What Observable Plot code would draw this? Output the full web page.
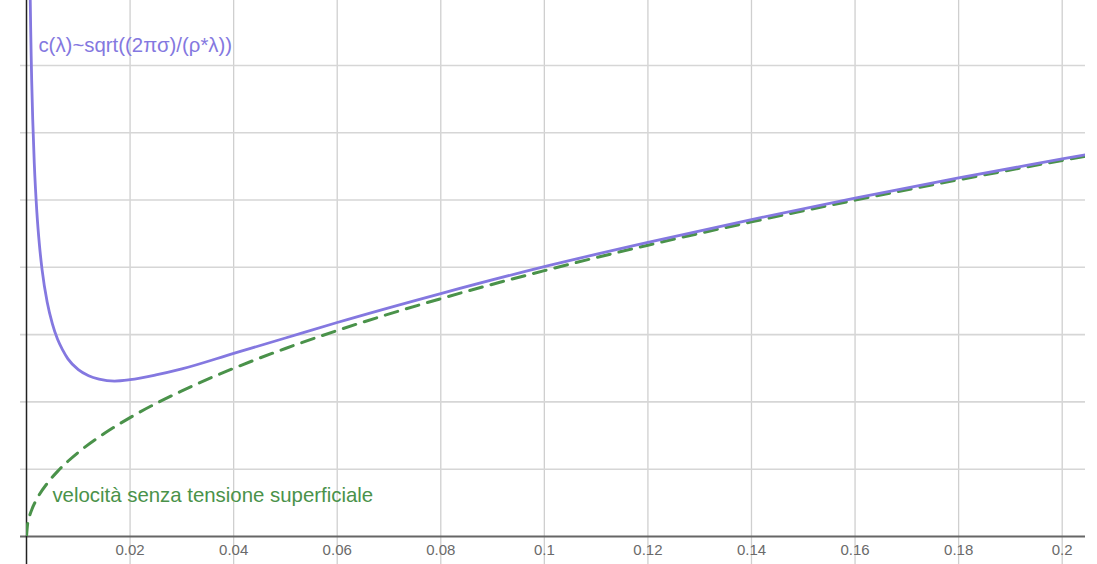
<!DOCTYPE html>
<html>
<head>
<meta charset="utf-8">
<script src="https://cdn.jsdelivr.net/npm/d3@7"></script>
<script src="https://cdn.jsdelivr.net/npm/@observablehq/plot@0.6"></script>
<style>
  html, body { margin: 0; padding: 0; background: #fff; }
  #chart svg { display: block; }
</style>
</head>
<body>
<div id="chart"></div>
<script>
// wavelength λ (m) and phase speed c (m/s)
const lambdaCap = [0.0007, 0.0008, 0.0009, 0.001, 0.0012, 0.0015, 0.002, 0.0025, 0.003, 0.004, 0.005, 0.006, 0.007, 0.008, 0.01, 0.012, 0.014, 0.017, 0.02, 0.025, 0.03, 0.04, 0.05, 0.06, 0.08, 0.1, 0.12, 0.14, 0.16, 0.18, 0.2, 0.205];
const speedCap  = [0.810, 0.758, 0.715, 0.678, 0.620, 0.555, 0.482, 0.433, 0.397, 0.348, 0.316, 0.293, 0.277, 0.264, 0.248, 0.239, 0.234, 0.231, 0.233, 0.240, 0.249, 0.272, 0.295, 0.318, 0.361, 0.401, 0.437, 0.471, 0.503, 0.533, 0.561, 0.568];

const lambdaGrav = [0, 0.0002, 0.0005, 0.001, 0.002, 0.004, 0.006, 0.008, 0.01, 0.015, 0.02, 0.03, 0.04, 0.05, 0.06, 0.08, 0.1, 0.12, 0.14, 0.16, 0.18, 0.2, 0.205];
const speedGrav  = [0, 0.0177, 0.0279, 0.0395, 0.0559, 0.0790, 0.0968, 0.1118, 0.1250, 0.1530, 0.1767, 0.2164, 0.2499, 0.2794, 0.3061, 0.3534, 0.3951, 0.4329, 0.4675, 0.4998, 0.5301, 0.5588, 0.5658];

const xTicks = [0.02, 0.04, 0.06, 0.08, 0.1, 0.12, 0.14, 0.16, 0.18, 0.2];
const xTickLabels = ["0.02", "0.04", "0.06", "0.08", "0.1", "0.12", "0.14", "0.16", "0.18", "0.2"];
const yGrid = [0.1, 0.2, 0.3, 0.4, 0.5, 0.6, 0.7];

const capLabel = "c(λ)~sqrt((2πσ)/(ρ*λ))";
const gravLabel = "velocità senza tensione superficiale";

const cap = lambdaCap.map((x, i) => ({x, y: speedCap[i]}));
const grav = lambdaGrav.map((x, i) => ({x, y: speedGrav[i]}));

const xMax = 0.2045, yMax = 0.7965;
const purple = "#8478e0", green = "#4a924a";

const chart = Plot.plot({
  width: 1097,
  height: 564,
  marginLeft: 26,
  marginRight: 12,
  marginTop: 0,
  marginBottom: 28,
  style: {fontFamily: "Arial, 'Liberation Sans', sans-serif", fontSize: "14px", background: "#fff", overflow: "visible"},
  x: {domain: [0, xMax]},
  y: {domain: [0, yMax], axis: null},
  marks: [
    Plot.ruleX(xTicks, {y1: -0.042, y2: yMax, stroke: "#cfcfcf", strokeWidth: 1.3, strokeOpacity: 1}),
    Plot.ruleY(yGrid, {x1: -0.00115, x2: xMax, stroke: "#d6d6d6", strokeWidth: 1.6, strokeOpacity: 1}),
    Plot.ruleY([0], {x1: -0.00115, x2: xMax, stroke: "#666", strokeWidth: 2}),
    Plot.ruleX([0], {y1: -0.042, y2: yMax, stroke: "#222", strokeWidth: 1.5}),
    Plot.axisX({ticks: xTicks, tickFormat: (d, i) => xTickLabels[i], tickSize: 0, tickPadding: 8, fill: "#6a6a6a", fontSize: 15, label: null}),
    Plot.line(grav, {x: "x", y: "y", stroke: green, strokeWidth: 3, strokeDasharray: "13,9", curve: "monotone-x", clip: true}),
    Plot.line(cap, {x: "x", y: "y", stroke: purple, strokeWidth: 2.8, curve: "monotone-x", clip: true}),
    Plot.text([capLabel], {x: 0.0023, y: 0.7296, text: d => d, textAnchor: "start", fill: purple, fontSize: 20.4}),
    Plot.text([gravLabel], {x: 0.0050, y: 0.0609, text: d => d, textAnchor: "start", fill: green, fontSize: 20.4})
  ]
});
document.getElementById("chart").appendChild(chart);
</script>
</body>
</html>
